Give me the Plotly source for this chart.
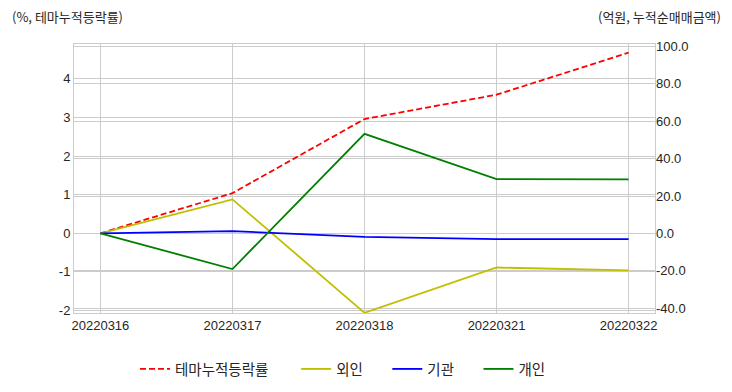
import plotly.graph_objects as go

dates = ["20220316", "20220317", "20220318", "20220321", "20220322"]
theme_rate = [0.0, 1.04, 2.96, 3.59, 4.68]
foreign = [0.0, 18.2, -42.4, -18.2, -19.7]
institution = [0.0, 1.2, -1.8, -3.05, -3.05]
individual = [0.0, -19.0, 53.2, 29.0, 28.9]

left_ticks = [-2, -1, 0, 1, 2, 3, 4]
left_ticktext = ["-2", "-1", "0", "1", "2", "3", "4"]
right_ticks = [-40, -20, 0, 20, 40, 60, 80, 100]
right_ticktext = ["-40.0", "-20.0", "0.0", "20.0", "40.0", "60.0", "80.0", "100.0"]

KFONT = "Noto Sans CJK KR"
NFONT = "Liberation Sans"
GRID = "#cccccc"
TXT = "#262626"
NB = "\u00a0"

fig = go.Figure()
xs = list(range(len(dates)))
fig.add_trace(go.Scatter(x=xs, y=theme_rate, name="테마누적등락률" + NB * 7, mode="lines",
                         line=dict(color="#ff0000", width=1.8, dash="6px,3px"), yaxis="y"))
fig.add_trace(go.Scatter(x=xs, y=foreign, name="외인" + NB * 6, mode="lines",
                         line=dict(color="#bfbf00", width=1.8), yaxis="y2"))
fig.add_trace(go.Scatter(x=xs, y=institution, name="기관" + NB * 6, mode="lines",
                         line=dict(color="#0000ff", width=1.8), yaxis="y2"))
fig.add_trace(go.Scatter(x=xs, y=individual, name="개인", mode="lines",
                         line=dict(color="#008000", width=1.8), yaxis="y2"))

fig.update_layout(
    width=732, height=392,
    margin=dict(l=74, r=77, t=44, b=79, autoexpand=False),
    paper_bgcolor="white", plot_bgcolor="white",
    font=dict(family=NFONT, size=13, color=TXT),
    xaxis=dict(range=[-0.2, 4.2], tickmode="array", tickvals=xs, ticktext=dates,
               showgrid=True, gridcolor=GRID, gridwidth=1, zeroline=False,
               showline=True, linecolor=GRID, linewidth=1, mirror=True,
               ticks="", tickfont=dict(family=NFONT, size=13, color=TXT)),
    yaxis=dict(range=[-2.065, 4.904], tickmode="array", tickvals=left_ticks,
               ticktext=left_ticktext,
               showgrid=True, gridcolor=GRID, gridwidth=1, zeroline=False,
               showline=True, linecolor=GRID, linewidth=1, mirror=True,
               ticks="", tickfont=dict(family=NFONT, size=13, color=TXT)),
    yaxis2=dict(range=[-42.5, 101.2], overlaying="y", side="right", tickmode="array",
                tickvals=right_ticks, ticktext=right_ticktext,
                showgrid=True, gridcolor=GRID, gridwidth=1, zeroline=False,
                showline=False, ticks="",
                tickfont=dict(family=NFONT, size=13, color=TXT)),
    legend=dict(orientation="h", x=(343 - 74) / 581, xanchor="center",
                y=(313 - 369) / 269, yanchor="middle", itemwidth=30,
                font=dict(family=KFONT, size=14.5, color=TXT),
                bgcolor="rgba(0,0,0,0)"),
    showlegend=True,
)

fig.add_annotation(text="(%, 테마누적등락률)", xref="paper", yref="paper",
                   x=(10 - 74) / 581, y=(313 - 16) / 269, xanchor="left", yanchor="middle",
                   showarrow=False, font=dict(family=KFONT, size=13, color=TXT))
fig.add_annotation(text="(억원, 누적순매매금액)", xref="paper", yref="paper",
                   x=(723 - 74) / 581, y=(313 - 16) / 269, xanchor="right", yanchor="middle",
                   showarrow=False, font=dict(family=KFONT, size=13, color=TXT))

fig.write_html("out.html", config={"displayModeBar": False},
               post_script="document.body.style.margin='0';")
